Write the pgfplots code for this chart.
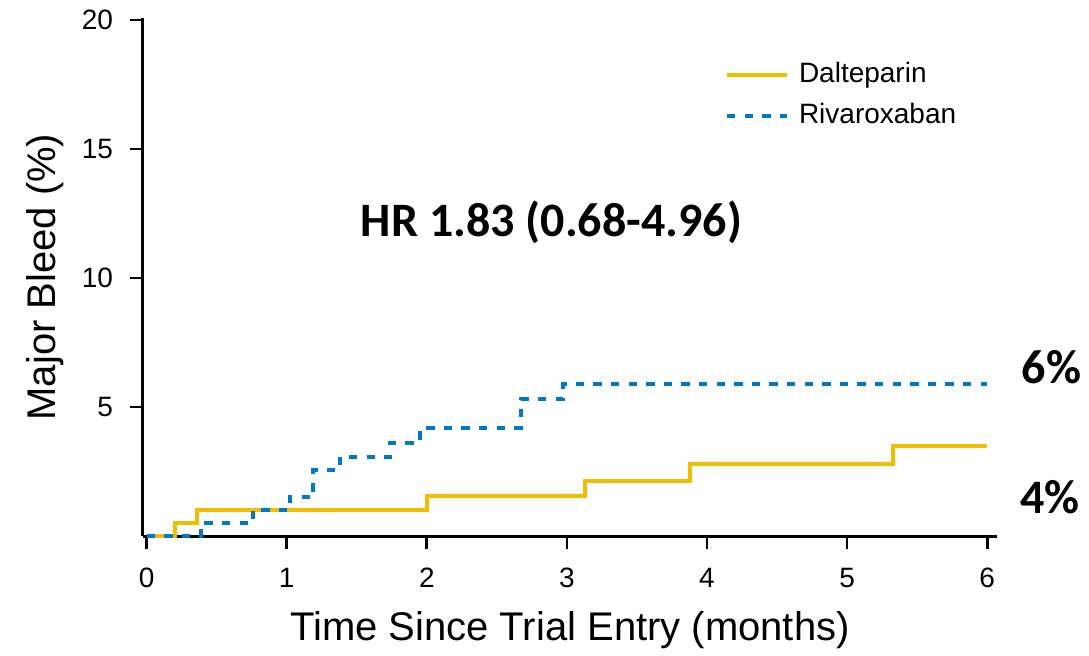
\documentclass[border=0pt]{standalone}
\usepackage{pgfplots}
\pgfplotsset{compat=1.18}
\usepackage{fontspec}
\setmainfont{Liberation Sans}
\newfontfamily\annotfont{Carlito}
\definecolor{dalte}{RGB}{240,189,0}
\definecolor{rivaro}{RGB}{0,120,200}

\begin{document}
\begin{tikzpicture}
\path[use as bounding box] (0,0) rectangle (544.5pt,327.5pt);
\begin{axis}[
  at={(71.5pt,59.5pt)}, anchor=south west,
  scale only axis, width=427pt, height=259pt,
  xmin=-0.026, xmax=6.07, ymin=0, ymax=20.08,
  axis x line*=bottom, axis y line*=left,
  axis line style={line width=1.5pt, -},
  xtick={0,1,2,3,4,5,6}, ytick={5,10,15,20},
  tick align=outside, major tick length=6.5pt,
  tick style={line width=1.4pt, black},
  every tick label/.append style={font=\fontsize{14}{17}\selectfont},
  xticklabel style={yshift=-6pt},
  yticklabel style={xshift=-5pt},
  /pgf/number format/assume math mode=true,
  xlabel={Time Since Trial Entry (months)},
  ylabel={Major Bleed (\%)},
  label style={font=\fontsize{20}{24}\selectfont},
  xlabel style={at={(axis description cs:0.5,-0.182)}, anchor=center},
  ylabel style={at={(axis description cs:-0.115,0.5)}, anchor=center},
  clip=false,
  legend style={draw=none, fill=none, inner sep=0pt, outer sep=0pt,
    at={(axis description cs:0.6815,0.850)}, anchor=west,
    font=\fontsize{14}{17}\selectfont,
    nodes={inner sep=1pt, text height=10pt, text depth=3pt},
    row sep=5.5pt},
  legend cell align=left,
  legend image code/.code={\draw[#1] (0pt,0pt) -- (30pt,0pt); \path (34pt,0pt);},
]
% cumulative incidence, step functions
\addplot[const plot, color=dalte, line width=2pt] coordinates {
  (0,0) (0.20,0.49) (0.36,1.01) (2.00,1.56) (3.13,2.14)
  (3.88,2.79) (5.33,3.5) (6,3.5)
};
\addlegendentry{Dalteparin}
\addplot[const plot, color=rivaro, line width=2pt, dash pattern=on 4.2pt off 4.6pt] coordinates {
  (0,0) (0.39,0.49) (0.76,1.01) (1.02,1.50) (1.19,2.56) (1.38,3.07)
  (1.74,3.62) (1.95,4.17) (2.67,5.30) (2.97,5.88) (6,5.88)
};
\addlegendentry{Rivaroxaban}

\node[font=\annotfont\bfseries\fontsize{24}{28}\selectfont] at (axis cs:2.89,12.17) {HR 1.83 (0.68-4.96)};
\node[font=\annotfont\bfseries\fontsize{24}{28}\selectfont] at (axis cs:6.46,6.55) {6\%};
\node[font=\annotfont\bfseries\fontsize{24}{28}\selectfont] at (axis cs:6.45,1.51) {4\%};
\end{axis}
\end{tikzpicture}
\end{document}
